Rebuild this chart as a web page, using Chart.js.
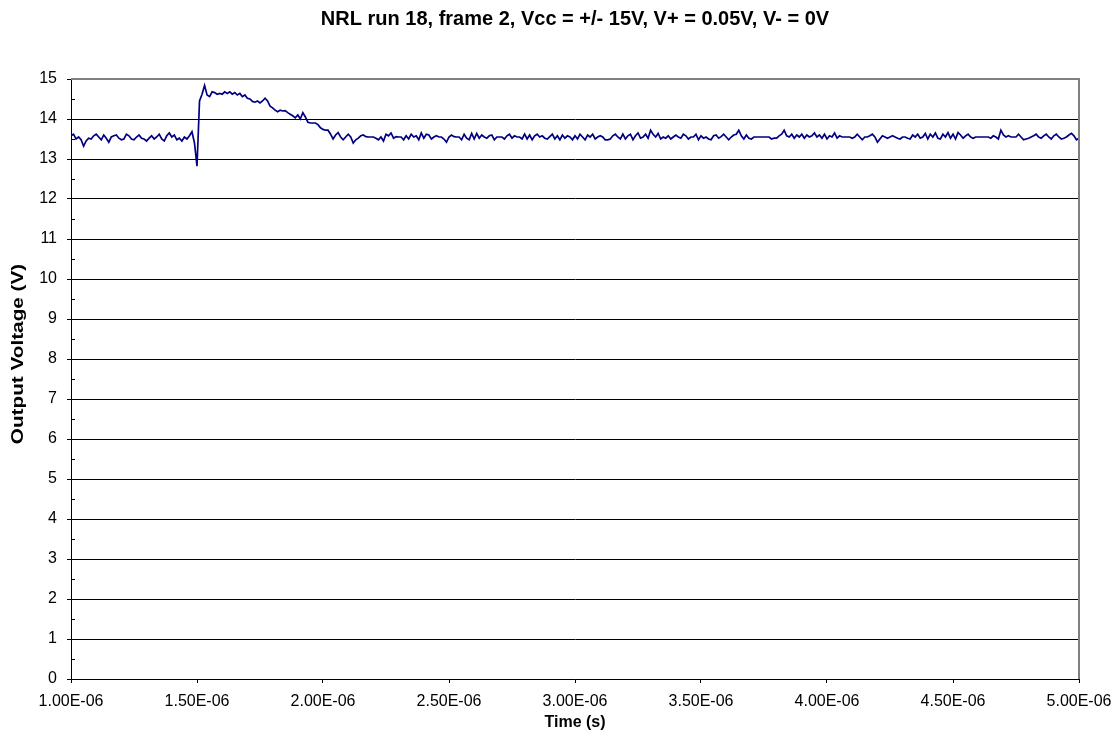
<!DOCTYPE html>
<html>
<head>
<meta charset="utf-8">
<title>NRL run 18, frame 2</title>
<script src="https://cdn.jsdelivr.net/npm/chart.js@4.4.1/dist/chart.umd.min.js"></script>
<style>
  html, body { margin: 0; padding: 0; background: #fff; }
  #wrap { width: 1119px; height: 742px; }
</style>
</head>
<body>
<div id="wrap"><canvas id="scopeChart" width="1119" height="742"></canvas></div>
<script>
// scope capture: one sample every 10 ns starting at 1 us
const startTime = 1.0e-6;
const sampleStep = 1.0e-8;

// 1.00 - 1.49 us, before the step
const voltsBefore = [
  13.58, 13.62, 13.50, 13.55, 13.48, 13.32, 13.45, 13.52, 13.50, 13.58,
  13.62, 13.55, 13.48, 13.60, 13.52, 13.42, 13.55, 13.58, 13.60, 13.52,
  13.48, 13.50, 13.62, 13.58, 13.50, 13.48, 13.55, 13.60, 13.52, 13.50,
  13.45, 13.52, 13.58, 13.50, 13.55, 13.62, 13.50, 13.45, 13.58, 13.65,
  13.55, 13.60, 13.48, 13.52, 13.45, 13.55, 13.50, 13.58, 13.68, 13.40
];

// 1.50 - 2.09 us, the jump and the slow decay
const voltsStep = [
  12.82, 14.45, 14.62, 14.84, 14.60, 14.56, 14.68, 14.66, 14.62, 14.64,
  14.62, 14.68, 14.64, 14.68, 14.62, 14.66, 14.60, 14.64, 14.56, 14.60,
  14.52, 14.50, 14.44, 14.42, 14.45, 14.40, 14.45, 14.52, 14.45, 14.32,
  14.28, 14.22, 14.18, 14.22, 14.20, 14.21, 14.16, 14.12, 14.08, 14.03,
  14.10, 14.00, 14.16, 14.05, 13.92, 13.90, 13.90, 13.90, 13.86, 13.78,
  13.74, 13.72, 13.72, 13.62, 13.50, 13.60, 13.66, 13.55, 13.48, 13.55
];

// 2.10 - 5.00 us, settled output
const voltsSettled = [
  13.62, 13.55, 13.40, 13.48, 13.52, 13.58, 13.60, 13.56, 13.55, 13.55,
  13.55, 13.52, 13.48, 13.55, 13.45, 13.62, 13.58, 13.65, 13.52, 13.56,
  13.55, 13.55, 13.48, 13.58, 13.50, 13.62, 13.55, 13.58, 13.48, 13.65,
  13.52, 13.62, 13.60, 13.50, 13.55, 13.58, 13.55, 13.55, 13.50, 13.42,
  13.55, 13.60, 13.56, 13.55, 13.55, 13.48, 13.62, 13.52, 13.48, 13.64,
  13.50, 13.64, 13.52, 13.60, 13.55, 13.52, 13.58, 13.60, 13.48, 13.55,
  13.55, 13.55, 13.50, 13.58, 13.62, 13.52, 13.58, 13.55, 13.55, 13.50,
  13.62, 13.50, 13.60, 13.48, 13.58, 13.62, 13.55, 13.58, 13.52, 13.50,
  13.56, 13.62, 13.50, 13.58, 13.48, 13.60, 13.52, 13.58, 13.55, 13.48,
  13.58, 13.50, 13.62, 13.55, 13.48, 13.60, 13.55, 13.62, 13.50, 13.55,
  13.58, 13.55, 13.48, 13.48, 13.50, 13.58, 13.62, 13.55, 13.50, 13.62,
  13.50, 13.58, 13.62, 13.48, 13.58, 13.65, 13.52, 13.55, 13.62, 13.52,
  13.72, 13.62, 13.55, 13.64, 13.50, 13.55, 13.52, 13.58, 13.50, 13.55,
  13.60, 13.55, 13.52, 13.62, 13.58, 13.50, 13.55, 13.55, 13.62, 13.48,
  13.58, 13.52, 13.55, 13.50, 13.48, 13.58, 13.60, 13.52, 13.56, 13.62,
  13.55, 13.48, 13.55, 13.60, 13.62, 13.72, 13.58, 13.50, 13.60, 13.52,
  13.50, 13.55, 13.55, 13.55, 13.55, 13.55, 13.55, 13.55, 13.50, 13.52,
  13.52, 13.58, 13.62, 13.72, 13.58, 13.55, 13.62, 13.52, 13.60, 13.55,
  13.62, 13.52, 13.60, 13.55, 13.58, 13.65, 13.55, 13.60, 13.52, 13.62,
  13.50, 13.58, 13.55, 13.65, 13.52, 13.58, 13.55, 13.55, 13.55, 13.55,
  13.52, 13.55, 13.62, 13.55, 13.48, 13.55, 13.55, 13.58, 13.62, 13.55,
  13.42, 13.50, 13.58, 13.55, 13.52, 13.55, 13.58, 13.55, 13.52, 13.50,
  13.55, 13.55, 13.52, 13.50, 13.60, 13.55, 13.62, 13.52, 13.55, 13.64,
  13.50, 13.62, 13.55, 13.65, 13.52, 13.50, 13.62, 13.55, 13.66, 13.52,
  13.62, 13.50, 13.66, 13.60, 13.52, 13.58, 13.62, 13.55, 13.52, 13.55,
  13.55, 13.55, 13.55, 13.55, 13.55, 13.52, 13.58, 13.55, 13.50, 13.72,
  13.60, 13.55, 13.58, 13.55, 13.55, 13.55, 13.62, 13.55, 13.48, 13.50,
  13.52, 13.55, 13.58, 13.62, 13.55, 13.52, 13.58, 13.62, 13.55, 13.50,
  13.58, 13.62, 13.55, 13.50, 13.52, 13.55, 13.60, 13.64, 13.58, 13.48,
  13.52
];

const timeTicks = [1.0e-6, 1.5e-6, 2.0e-6, 2.5e-6, 3.0e-6, 3.5e-6, 4.0e-6, 4.5e-6, 5.0e-6];
const timeTickLabels = ['1.00E-06', '1.50E-06', '2.00E-06', '2.50E-06', '3.00E-06',
  '3.50E-06', '4.00E-06', '4.50E-06', '5.00E-06'];
const voltTicks = [0, 1, 2, 3, 4, 5, 6, 7, 8, 9, 10, 11, 12, 13, 14, 15];

const chartTitle = 'NRL run 18, frame 2, Vcc = +/- 15V, V+ = 0.05V, V- = 0V';
const xTitle = 'Time (s)';
const yTitle = 'Output Voltage (V)';

const allVolts = voltsBefore.concat(voltsStep, voltsSettled);
const points = allVolts.map((v, i) => ({ x: startTime + i * sampleStep, y: v }));

const FONT = "'Liberation Sans', Arial, sans-serif";

// bold caption, optionally turned upright and drawn a little longer
function caption(ctx, text, x, y, size, stretch, upright) {
  ctx.save();
  ctx.translate(x, y);
  if (upright) ctx.rotate(-Math.PI / 2);
  ctx.scale(stretch, 1);
  ctx.font = 'bold ' + size + 'px ' + FONT;
  ctx.textAlign = 'center';
  ctx.textBaseline = 'middle';
  ctx.fillStyle = '#000';
  ctx.fillText(text, 0, 0);
  ctx.restore();
}

// titles, grey plot frame and the small inside ticks at every half volt
const decorations = {
  id: 'decorations',
  afterDraw(chart) {
    const { ctx, chartArea } = chart;
    const y = chart.scales.y;
    ctx.save();

    ctx.strokeStyle = '#000';
    ctx.lineWidth = 1;
    ctx.beginPath();
    for (let v = 0.5; v < 15; v += 1) {
      const py = Math.round(y.getPixelForValue(v)) + 0.5;
      ctx.moveTo(chartArea.left, py);
      ctx.lineTo(chartArea.left + 4, py);
    }
    ctx.stroke();

    ctx.strokeStyle = '#808080';
    ctx.lineWidth = 2;
    ctx.beginPath();
    ctx.moveTo(chartArea.left, chartArea.top);
    ctx.lineTo(chartArea.right, chartArea.top);
    ctx.lineTo(chartArea.right, chartArea.bottom);
    ctx.stroke();
    ctx.restore();

    const midX = (chartArea.left + chartArea.right) / 2;
    caption(ctx, chartTitle, midX, 19, 20, 1, false);
    caption(ctx, xTitle, midX, 723, 16, 1, false);
    caption(ctx, yTitle, 18, 354, 17, 1.22, true);
  }
};

new Chart(document.getElementById('scopeChart'), {
  type: 'line',
  data: {
    datasets: [{
      data: points,
      borderColor: '#000080',
      borderWidth: 1.7,
      pointRadius: 0,
      tension: 0,
      fill: false
    }]
  },
  options: {
    responsive: false,
    animation: false,
    events: [],
    layout: { padding: { top: 79, right: 40, left: 0, bottom: 0 } },
    plugins: {
      legend: { display: false },
      tooltip: { enabled: false },
      title: { display: false }
    },
    scales: {
      x: {
        type: 'linear',
        min: 1.0e-6,
        max: 5.0e-6,
        afterBuildTicks: (scale) => { scale.ticks = timeTicks.map(v => ({ value: v })); },
        afterFit: (scale) => {
          scale.height = 63;
          scale.paddingLeft = 0;
          scale.paddingRight = 0;
        },
        ticks: {
          autoSkip: false,
          maxRotation: 0,
          padding: 9,
          color: '#000',
          font: { family: FONT, size: 16 },
          callback: (value, index) => timeTickLabels[index]
        },
        grid: { drawOnChartArea: false, drawTicks: true, tickLength: 4, tickColor: '#000' },
        border: { display: true, color: '#000', width: 1 }
      },
      y: {
        min: 0,
        max: 15,
        afterBuildTicks: (scale) => { scale.ticks = voltTicks.map(v => ({ value: v })); },
        afterFit: (scale) => {
          scale.width = 71;
          scale.paddingTop = 0;
          scale.paddingBottom = 0;
        },
        ticks: {
          padding: 10,
          color: '#000',
          font: { family: FONT, size: 16 },
          callback: (value) => String(value)
        },
        grid: {
          color: '#000',
          lineWidth: 1,
          drawTicks: true,
          tickLength: 4,
          tickColor: '#000'
        },
        border: { display: true, color: '#000', width: 1 }
      }
    }
  },
  plugins: [decorations]
});
</script>
</body>
</html>
